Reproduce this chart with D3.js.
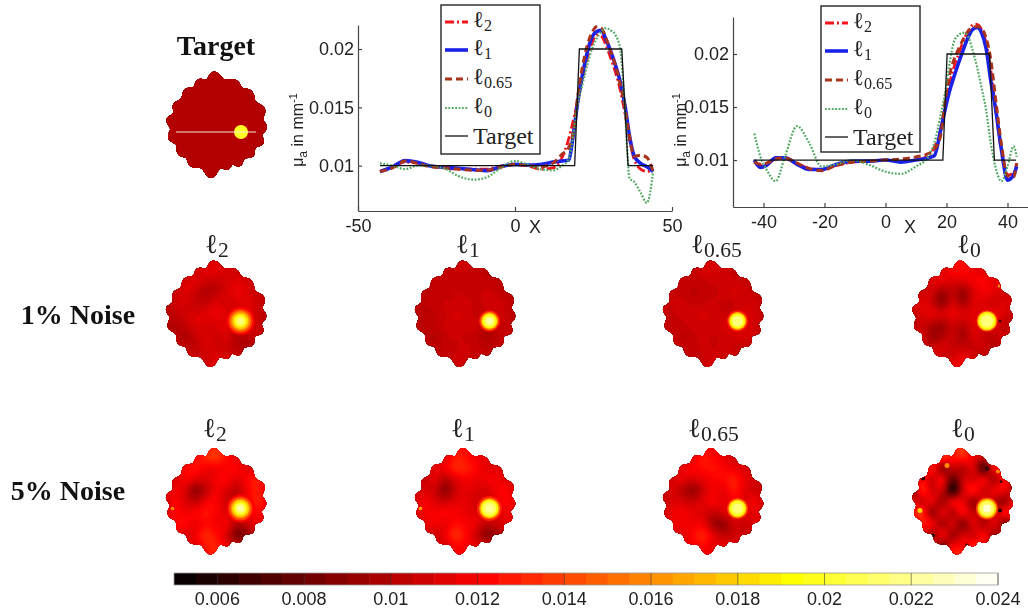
<!DOCTYPE html>
<html>
<head>
<meta charset="utf-8">
<script src="https://cdn.jsdelivr.net/npm/d3@7"></script>
<style>
  html, body { margin: 0; background: #fff; }
  svg { display: block; filter: blur(0.45px); }
  .sans { font-family: "Liberation Sans", sans-serif; fill: #222; }
  .serif { font-family: "Liberation Serif", serif; fill: #222; }
  .bold { font-family: "Liberation Serif", serif; font-weight: bold; fill: #111; }
</style>
</head>
<body>
<svg id="chart" width="1028" height="614"></svg>
<script>
// profile along the white line, left plot
const x1 = [-43,-39,-35,-31,-27,-22,-18,-13,-9,-4,0,4,8,12,15,17,18.5,20,21.5,23,24.5,26,27.5,29,30.5,32,33.5,35,36.5,38,40,42,44];
const p1L2 = [.0095,.0099,.0103,.0102,.0100,.0098,.0097,.0097,.0097,.0100,.0101,.0100,.0097,.0098,.0107,.0122,.0138,.0156,.0175,.0192,.0205,.0212,.0211,.0203,.0192,.0180,.0165,.0145,.0122,.0105,.0097,.0095,.0096];
const p1L1 = [.00949,.0099,.01043,.01029,.00997,.00985,.00977,.00965,.00957,.00995,.01011,.01005,.0101,.0103,.0104,.01046,.0125,.0155,.0178,.0197,.0210,.0215,.0216,.0208,.0198,.0186,.0172,.0152,.0125,.0108,.0102,.0099,.0095];
const p1L065 = [.0095,.0098,.0104,.0102,.0099,.0098,.0097,.0096,.0096,.0099,.0101,.0100,.0099,.0102,.0110,.0115,.0128,.0160,.0185,.0203,.0214,.0219,.0218,.0209,.0198,.0186,.0170,.0150,.0125,.0108,.0109,.0107,.0095];
const p1L0 = [.0102,.0100,.0097,.0100,.0100,.0097,.0091,.0088,.0090,.0099,.0104,.0101,.0097,.0096,.0100,.0105,.0125,.0153,.0170,.0186,.0200,.0209,.0215,.0218,.0216,.0212,.0200,.0150,.0089,.0086,.0077,.0068,.0095];
const targetX1 = [-43,19,20.5,34,36,44];
const targetY1 = [.01,.01,.02,.02,.01,.01];

// right plot
const x2 = [-43,-41,-39,-36,-33,-29,-25,-21,-16,-11,-5,0,5,10,14,16,18,19.5,21,22.5,24,25.5,27,28.5,30,31.5,33,34.5,36,38,40,42,43];
const p2L2 = [.0098,.0095,.0096,.0101,.0102,.0097,.0092,.0091,.0095,.0098,.0099,.0100,.0099,.0100,.0104,.0112,.0128,.0150,.0172,.0188,.0200,.0212,.0221,.0227,.0228,.0223,.0210,.0185,.0150,.0108,.0086,.0087,.0097];
const p2L1 = [.0100,.0093,.0095,.0102,.0102,.0096,.0091,.0091,.0096,.0099,.0099,.0100,.0098,.0100,.0102,.0104,.0127,.0147,.0165,.0179,.0192,.0204,.0215,.0223,.0225,.0220,.0205,.0175,.0150,.0110,.0081,.0086,.0094];
const p2L065 = [.0098,.0096,.0097,.0101,.0102,.0097,.0092,.0090,.0095,.0098,.0099,.0100,.0101,.0103,.0106,.0110,.0122,.0155,.0180,.0195,.0205,.0214,.0221,.0225,.0226,.0224,.0215,.0195,.0160,.0115,.0085,.0084,.0097];
const p2L0 = [.0125,.0103,.0091,.0080,.0103,.0132,.0116,.0094,.0096,.0100,.0095,.0089,.0087,.0094,.0103,.0116,.0141,.0163,.0191,.0212,.0218,.0220,.0217,.0204,.0188,.0168,.0147,.0116,.0094,.0080,.0094,.0113,.0103];
const targetX2 = [-43.3,18.8,20.2,34.1,35.7,42.8];
const targetY2 = [.01,.01,.02,.02,.01,.01];

const xTicks1 = [-50,0,50];
const xTicks2 = [-40,-20,0,20,40];
const yTicks1 = [.01,.015,.02];
const colorTicks = [.006,.008,.01,.012,.014,.016,.018,.02,.022,.024];

// disc boundary lobes: angle (deg, clockwise from top), radius (mm)
const outlineAngle = [-4,22.5,45.6,72,93,111,130,151,166,186,213,233,255,276,295,318,338];
const outlineRadius = [54,49.5,49,51,50.2,50.2,48.3,47.5,46.3,54,49.5,49,50.8,51.2,48.8,48.5,49.8];

// reconstructions, coarse grid in units of 1e-4 mm^-1, top row first
const map1L2 = [
  [105,105,105,105,108,110,108,105,105,105,105],
  [105,105,104,108,112,114,110,106,104,105,105],
  [105,104,110,112,108,106,108,112,110,104,105],
  [104,106,112,108,100,104,110,114,110,106,104],
  [104,108,110,104,106,112,108,110,112,108,104],
  [104,106,108,110,112,114,110,108,112,106,104],
  [104,102,106,112,108,110,112,104,115,106,104],
  [104,106,100,106,112,106,112,100,104,108,104],
  [105,108,106,104,110,108,106,104,100,106,105],
  [105,105,110,108,106,112,110,108,106,105,105],
  [105,105,105,106,110,112,110,105,105,105,105]];
const map1L1 = [
  [105,105,105,105,106,108,106,105,105,105,105],
  [105,105,104,106,108,108,106,104,105,105,105],
  [105,104,106,106,105,105,106,106,105,104,105],
  [104,104,106,105,108,106,106,108,106,104,104],
  [104,106,106,108,106,109,106,108,108,106,104],
  [104,104,105,106,110,108,106,106,110,106,104],
  [104,104,105,108,108,108,108,106,108,106,104],
  [104,106,102,106,108,106,106,100,104,108,104],
  [105,106,104,106,106,108,106,106,106,106,105],
  [105,105,106,106,108,108,106,104,105,105,105],
  [105,105,105,105,106,108,106,105,105,105,105]];
const map1L065 = [
  [105,105,105,105,108,110,108,105,105,105,105],
  [105,105,105,106,110,110,108,106,105,105,105],
  [105,106,108,106,106,108,106,108,106,105,105],
  [105,106,106,104,106,106,108,110,108,106,105],
  [105,108,108,106,106,108,106,106,108,108,105],
  [105,106,108,108,110,108,106,108,112,108,105],
  [105,106,106,108,108,108,110,112,110,108,105],
  [105,108,104,106,108,106,108,108,110,108,105],
  [105,106,106,106,108,106,108,106,106,106,105],
  [105,105,108,106,106,110,108,108,105,105,105],
  [105,105,105,106,108,110,108,105,105,105,105]];
const map1L0 = [
  [108,108,108,108,112,116,112,108,108,108,108],
  [108,108,106,110,116,116,112,110,106,108,108],
  [108,104,112,114,110,112,114,116,112,112,108],
  [106,108,110,100,108,98,110,114,112,108,106],
  [108,112,108,96,112,100,112,110,106,112,108],
  [106,110,114,112,114,112,110,112,114,110,106],
  [104,108,104,100,108,104,112,110,112,104,108],
  [108,112,100,104,110,100,112,106,106,110,108],
  [108,106,108,112,106,108,106,110,104,108,108],
  [108,108,112,106,110,114,110,104,112,108,108],
  [108,108,108,108,112,116,112,108,108,108,108]];
const map5L2 = [
  [112,112,112,112,118,122,118,112,112,112,112],
  [112,112,112,116,124,126,118,112,112,112,112],
  [112,110,118,120,114,114,116,118,112,110,112],
  [110,112,118,114,112,116,118,112,118,122,110],
  [110,116,112,98,108,116,112,106,116,122,110],
  [110,118,112,108,116,118,108,112,114,124,112],
  [112,118,114,118,120,116,112,110,112,118,112],
  [112,116,120,112,118,114,118,106,112,116,112],
  [112,118,108,116,124,118,112,94,100,112,112],
  [112,112,118,112,120,122,114,112,114,112,112],
  [112,112,112,112,116,122,116,112,112,112,112]];
const map5L1 = [
  [112,112,112,112,118,120,116,112,112,112,112],
  [112,112,110,112,120,118,114,114,112,112,112],
  [112,108,114,116,124,122,118,112,114,110,112],
  [110,108,116,106,112,116,114,116,116,112,110],
  [110,112,112,98,110,114,112,110,116,118,110],
  [110,118,112,110,114,114,110,112,114,118,112],
  [112,116,116,118,116,114,112,114,110,116,112],
  [112,112,118,112,118,116,116,108,112,114,112],
  [112,112,108,114,126,118,110,98,102,110,112],
  [112,112,116,110,116,116,114,116,110,112,112],
  [112,112,112,112,116,118,114,112,112,112,112]];
const map5L065 = [
  [110,110,110,110,114,116,114,110,110,110,110],
  [110,110,108,112,122,116,114,110,110,110,110],
  [110,108,114,118,118,120,116,114,112,108,110],
  [108,112,116,112,114,116,118,122,114,112,108],
  [108,114,106,100,110,116,112,122,112,110,108],
  [108,112,112,110,114,118,112,116,112,118,108],
  [110,116,116,114,112,108,114,116,112,114,110],
  [110,114,116,114,116,102,100,112,108,114,110],
  [110,112,112,118,124,114,108,110,110,112,110],
  [110,110,116,114,118,112,116,114,110,110,110],
  [110,110,110,110,114,116,114,110,110,110,110]];
const map5L0 = [
  [118,118,118,118,122,126,120,118,118,118,118],
  [118,118,116,130,120,126,116,118,118,118,118],
  [118,112,128,100,118,108,122,90,128,112,118],
  [104,124,110,126,100,118,112,126,104,126,104],
  [96,130,112,120,88,116,128,110,122,120,110],
  [122,108,124,104,126,118,104,120,112,104,122],
  [118,132,100,124,106,126,112,118,110,128,118],
  [112,120,126,104,122,100,122,106,124,100,112],
  [118,122,102,128,104,120,110,126,104,122,118],
  [118,112,128,96,124,116,126,118,112,118,118],
  [118,118,118,118,122,126,122,118,118,118,118]];
const mapTarget = d3.range(11).map(() => d3.range(11).map(() => 100));

// inclusion: [value, radius in mm], outermost level first
const incTarget = [[.02,7]];
const inc1L2 = [[.012,14],[.014,12],[.016,10],[.018,8],[.02,6],[.0215,3.5]];
const inc1L1 = [[.013,10.5],[.016,9],[.019,7.5],[.021,5.5],[.0225,3]];
const inc1L065 = [[.013,10.5],[.017,9],[.0195,7.5],[.0215,5.5]];
const inc1L0 = [[.014,10.5],[.018,9.5],[.02,8],[.0215,6]];
const inc5L2 = [[.012,14],[.014,12],[.016,10],[.018,8.5],[.02,6.5],[.0215,4.5],[.0225,2.5]];
const inc5L1 = [[.013,12.5],[.016,10.5],[.019,9],[.021,7],[.022,4]];
const inc5L065 = [[.014,10.5],[.018,9],[.02,7.5],[.0215,5]];
const inc5L0 = [[.014,11],[.018,9.5],[.021,7.5],[.023,4]];
const incX = 24, incY = 7;

// small artefacts: [x, y, value, radius]
const specks5L0 = [[-47,-16,.006,2],[-43,9,.018,2.5],[-16,-36,.016,2.5],[-30,34,.006,2],[4,44,.007,2],[35,-30,.016,2],[37,9,.006,2],[24,-33,.007,2.5],[-40,-23,.006,2],[-34,-38,.007,1.5],[38,-20,.007,1.5]];
const specks5L1 = [[-45,7,.017,1.8]];
const specks5L2 = [[-44,7,.016,1.8]];
const specks1L0 = [[-41,-25,.007,1.5],[36,-28,.016,1.5],[37,7,.007,1.5]];

const svg = d3.select('#chart');

const hot = d3.scaleLinear()
  .domain([.005, .012125, .01925, .024])
  .range(['#000000', '#ff0000', '#ffff00', '#ffffff'])
  .clamp(true);

const discX = d3.scaleLinear().domain([-52, 52]).range([-52, 52]);
const discY = d3.scaleLinear().domain([-56, 56]).range([-56, 56]);

// each lobe gets two shoulders and a notch to the next one, so the basis curve stays round
const outlinePoints = outlineAngle.flatMap((a, i) => {
  const n = outlineAngle.length;
  const prev = i > 0 ? outlineAngle[i - 1] : outlineAngle[n - 1] - 360;
  const next = i < n - 1 ? outlineAngle[i + 1] : outlineAngle[0] + 360;
  const r = outlineRadius[i];
  return [
    [a - (a - prev) / 5, r],
    [a + (next - a) / 5, r],
    [(a + next) / 2, Math.min(r, outlineRadius[(i + 1) % n]) - 5.5],
  ];
});

svg.append('defs').call((defs) => {
  defs.append('clipPath').attr('id', 'disc')
    .append('path')
    .attr('d', d3.lineRadial()
      .angle((d) => d[0] * Math.PI / 180)
      .radius((d) => d[1])
      .curve(d3.curveBasisClosed)(outlinePoints));
  defs.append('filter').attr('id', 'soft')
    .attr('x', '-10%').attr('y', '-10%').attr('width', '120%').attr('height', '120%')
    .attr('color-interpolation-filters', 'sRGB')
    .append('feGaussianBlur').attr('stdDeviation', 0.6);
  defs.append('filter').attr('id', 'softer')
    .attr('x', '-10%').attr('y', '-10%').attr('width', '120%').attr('height', '120%')
    .attr('color-interpolation-filters', 'sRGB')
    .append('feGaussianBlur').attr('stdDeviation', 0.4);
});

// bilinear upsample of the coarse grid, smoothed with d3.blur2, contrast given back after the blur
function fieldOf(rows, gain) {
  const k = 4, n = rows.length, w = (n - 1) * k + 1;
  const base = d3.median(rows.flat()) * 1e-4;
  const data = new Float64Array(w * w);
  for (let j = 0; j < w; j++) {
    const r0 = Math.min(Math.floor(j / k), n - 2), tr = j / k - r0;
    for (let i = 0; i < w; i++) {
      const c0 = Math.min(Math.floor(i / k), n - 2), tc = i / k - c0;
      const top = d3.interpolateNumber(rows[r0][c0], rows[r0][c0 + 1])(tc);
      const bot = d3.interpolateNumber(rows[r0 + 1][c0], rows[r0 + 1][c0 + 1])(tc);
      data[j * w + i] = d3.interpolateNumber(top, bot)(tr) * 1e-4;
    }
  }
  d3.blur2({ data, width: w, height: w }, 1);
  for (let i = 0; i < data.length; i++) data[i] = base + gain * (data[i] - base);
  return { data, w };
}

function drawDisc(p) {
  const g = svg.append('g')
    .attr('transform', `translate(${p.cx},${p.cy})`)
    .attr('filter', p.sharp ? 'url(#softer)' : 'url(#soft)');
  const inner = g.append('g').attr('clip-path', 'url(#disc)');
  const { data, w } = fieldOf(p.rows, p.gain || 1);
  // a contour cell is centred on i + 0.5
  const fx = d3.scaleLinear().domain([0.5, w - 0.5]).range([discX(-52), discX(52)]);
  const fy = d3.scaleLinear().domain([0.5, w - 0.5]).range([discY(-56), discY(56)]);
  const path = d3.geoPath(d3.geoTransform({
    point(x, y) { this.stream.point(fx(x), fy(y)); },
  }));
  const levels = d3.range(.005, .024, .00025);

  inner.append('rect')
    .attr('x', discX(-60)).attr('y', discY(-62))
    .attr('width', 120).attr('height', 124)
    .attr('fill', hot(d3.min(data)));
  inner.selectAll('path')
    .data(d3.contours().size([w, w]).thresholds(levels)(data))
    .enter().append('path')
    .attr('d', path)
    .attr('fill', (d) => hot(d.value));

  inner.selectAll('circle.speck')
    .data(p.specks || [])
    .enter().append('circle')
    .attr('class', 'speck')
    .attr('cx', (d) => discX(d[0]))
    .attr('cy', (d) => discY(d[1]))
    .attr('r', (d) => d[3])
    .attr('fill', (d) => hot(d[2]));

  inner.selectAll('circle.inc')
    .data(p.inc)
    .enter().append('circle')
    .attr('class', 'inc')
    .attr('cx', discX(incX))
    .attr('cy', discY(incY))
    .attr('r', (d) => d[1])
    .attr('fill', (d) => hot(d[0]));
}

// ell with a subscript, as real text
function ell(sel, x, y, sub, size, subScale) {
  const t = sel.append('text')
    .attr('class', 'serif')
    .attr('x', x).attr('y', y)
    .attr('font-size', size);
  t.append('tspan').text('\u2113');
  t.append('tspan').attr('font-size', size * subScale).attr('dy', size * 0.16).text(sub);
  return t;
}

const panels = [
  { cx: 217, cy: 125, rows: mapTarget, inc: incTarget, sharp: true },
  { cx: 216.5, cy: 314, rows: map1L2, inc: inc1L2, gain: 1.6 },
  { cx: 465.5, cy: 314, rows: map1L1, inc: inc1L1, gain: 1.6 },
  { cx: 713.5, cy: 314, rows: map1L065, inc: inc1L065, gain: 1.6 },
  { cx: 963, cy: 314, rows: map1L0, inc: inc1L0, specks: specks1L0, gain: 2.2 },
  { cx: 216.5, cy: 501.5, rows: map5L2, inc: inc5L2, specks: specks5L2, gain: 2.2 },
  { cx: 465.5, cy: 501.5, rows: map5L1, inc: inc5L1, specks: specks5L1, gain: 2.2 },
  { cx: 713.5, cy: 501.5, rows: map5L065, inc: inc5L065, gain: 2.2 },
  { cx: 963, cy: 501.5, rows: map5L0, inc: inc5L0, specks: specks5L0, gain: 3 },
];
panels.forEach(drawDisc);

// section line on the target disc
svg.append('line')
  .attr('x1', 217 + discX(-41)).attr('x2', 217 + discX(39))
  .attr('y1', 125 + discY(incY)).attr('y2', 125 + discY(incY))
  .attr('stroke', '#f6ead8').attr('stroke-width', 1.2);

svg.append('text').attr('class', 'bold').attr('x', 216).attr('y', 55)
  .attr('text-anchor', 'middle').attr('font-size', 28).text('Target');
svg.append('text').attr('class', 'bold').attr('x', 78).attr('y', 324)
  .attr('text-anchor', 'middle').attr('font-size', 28).text('1% Noise');
svg.append('text').attr('class', 'bold').attr('x', 68).attr('y', 500)
  .attr('text-anchor', 'middle').attr('font-size', 28).text('5% Noise');

[[205, 253, '2'], [456, 253, '1'], [691, 253, '0.65'], [957, 253, '0'],
 [203, 437, '2'], [451, 437, '1'], [688, 437, '0.65'], [951, 437, '0']]
  .forEach((d) => ell(svg, d[0], d[1], d[2], 27, 0.8));

function drawProfile(o) {
  const x = d3.scaleLinear().domain([-50, 50]).range(o.xRange);
  const y = d3.scaleLinear().domain(o.yDomain).range(o.yRange);
  const g = svg.append('g');
  const line = d3.line().x((d) => x(d[0])).y((d) => y(d[1]));
  const smooth = d3.line().x((d) => x(d[0])).y((d) => y(d[1])).curve(d3.curveMonotoneX);

  const styles = [
    { v: o.l2, stroke: '#f4141c', w: 2.8, dash: '9 3 2 3', sub: '2' },
    { v: o.l1, stroke: '#1a22e8', w: 3.6, dash: null, sub: '1' },
    { v: o.l065, stroke: '#a8321a', w: 3, dash: '7 4', sub: '0.65' },
    { v: o.l0, stroke: '#4fa860', w: 2.2, dash: '1.8 1.6', sub: '0' },
  ];
  g.selectAll('path.series')
    .data(styles)
    .enter().append('path')
    .attr('class', 'series')
    .attr('fill', 'none')
    .attr('stroke', (d) => d.stroke)
    .attr('stroke-width', (d) => d.w)
    .attr('stroke-dasharray', (d) => d.dash)
    .attr('d', (d) => smooth(d3.zip(o.x, d.v)));
  g.append('path')
    .attr('fill', 'none')
    .attr('stroke', '#111')
    .attr('stroke-width', 1.3)
    .attr('d', line(d3.zip(o.targetX, o.targetY)));

  const xAxis = d3.axisBottom(x).tickValues(o.xTicks).tickSizeInner(-4).tickSizeOuter(0).tickPadding(8)
    .tickFormat((d) => d);
  const yAxis = d3.axisLeft(y).tickValues(yTicks1).tickSizeInner(-4).tickSizeOuter(0).tickPadding(4)
    .tickFormat((d) => d);
  [g.append('g').attr('transform', `translate(0,${o.yRange[0]})`).call(xAxis),
   g.append('g').attr('transform', `translate(${o.xRange[0]},0)`).call(yAxis)]
    .forEach((a) => {
      a.selectAll('path,line').attr('stroke', '#444').attr('stroke-width', 1.2);
      a.selectAll('text').attr('class', 'sans').attr('font-size', 18).attr('fill', '#222');
    });

  g.append('text').attr('class', 'sans').attr('x', o.xLabel[0]).attr('y', o.xLabel[1])
    .attr('text-anchor', 'middle').attr('font-size', 18).text('X');

  const yl = g.append('text').attr('class', 'sans')
    .attr('transform', `translate(${o.yLabel[0]},${o.yLabel[1]}) rotate(-90)`)
    .attr('text-anchor', 'middle').attr('font-size', 16);
  yl.append('tspan').text('\u03bc');
  yl.append('tspan').attr('font-size', 12).attr('dy', 4).text('a');
  yl.append('tspan').attr('dy', -4).text(' in mm');
  yl.append('tspan').attr('font-size', 11).attr('dy', -6).text('-1');

  // legend
  const lx = o.legend[0], ly = o.legend[1];
  g.append('rect').attr('x', lx).attr('y', ly)
    .attr('width', o.legend[2]).attr('height', o.legend[3])
    .attr('fill', '#fff').attr('stroke', '#333').attr('stroke-width', 1.5);
  const rows = [17, 45, 74, 103, 131];
  styles.forEach((s, i) => {
    g.append('line')
      .attr('x1', lx + 4).attr('x2', lx + 27)
      .attr('y1', ly + rows[i]).attr('y2', ly + rows[i])
      .attr('stroke', s.stroke).attr('stroke-width', s.w)
      .attr('stroke-dasharray', s.dash);
    ell(g, lx + 32, ly + rows[i] + 5, s.sub, 23, 0.7);
  });
  g.append('line')
    .attr('x1', lx + 4).attr('x2', lx + 27)
    .attr('y1', ly + rows[4]).attr('y2', ly + rows[4])
    .attr('stroke', '#111').attr('stroke-width', 1.3);
  g.append('text').attr('class', 'serif')
    .attr('x', lx + 32).attr('y', ly + rows[4] + 8)
    .attr('font-size', 24).text('Target');
}

drawProfile({
  x: x1, l2: p1L2, l1: p1L1, l065: p1L065, l0: p1L0,
  targetX: targetX1, targetY: targetY1,
  xTicks: xTicks1,
  xRange: [358, 672], yRange: [211, 25], yDomain: [.00611, .02206],
  xLabel: [535, 233], yLabel: [303, 130],
  legend: [441, 5, 99, 149],
});
drawProfile({
  x: x2, l2: p2L2, l1: p2L1, l065: p2L065, l0: p2L0,
  targetX: targetX2, targetY: targetY2,
  xTicks: xTicks2,
  xRange: [733, 1038], yRange: [207, 17], yDomain: [.00557, .02349],
  xLabel: [910, 233], yLabel: [686, 130],
  legend: [821, 6, 99, 146],
});

// colour bar
const cx = d3.scaleLinear().domain([.005, .024]).range([174, 998]);
const cbar = svg.append('g');
const steps = d3.range(.005, .024, .0005);
cbar.selectAll('rect.band')
  .data(steps)
  .enter().append('rect')
  .attr('class', 'band')
  .attr('x', (d) => cx(d))
  .attr('y', 573)
  .attr('width', (d) => cx(d + .0005) - cx(d) + 0.5)
  .attr('height', 12)
  .attr('fill', (d) => hot(d + .00025));
cbar.append('rect')
  .attr('x', 174).attr('y', 573).attr('width', 824).attr('height', 12)
  .attr('fill', 'none').attr('stroke', '#999').attr('stroke-width', 0.8);
cbar.selectAll('line.tick')
  .data(colorTicks)
  .enter().append('line')
  .attr('class', 'tick')
  .attr('x1', (d) => cx(d)).attr('x2', (d) => cx(d))
  .attr('y1', 573).attr('y2', 585)
  .attr('stroke', '#333').attr('stroke-opacity', 0.55);
cbar.selectAll('text')
  .data(colorTicks)
  .enter().append('text')
  .attr('class', 'sans')
  .attr('x', (d) => cx(d))
  .attr('y', 605)
  .attr('text-anchor', 'middle')
  .attr('font-size', 18)
  .text((d) => d);
</script>
</body>
</html>
